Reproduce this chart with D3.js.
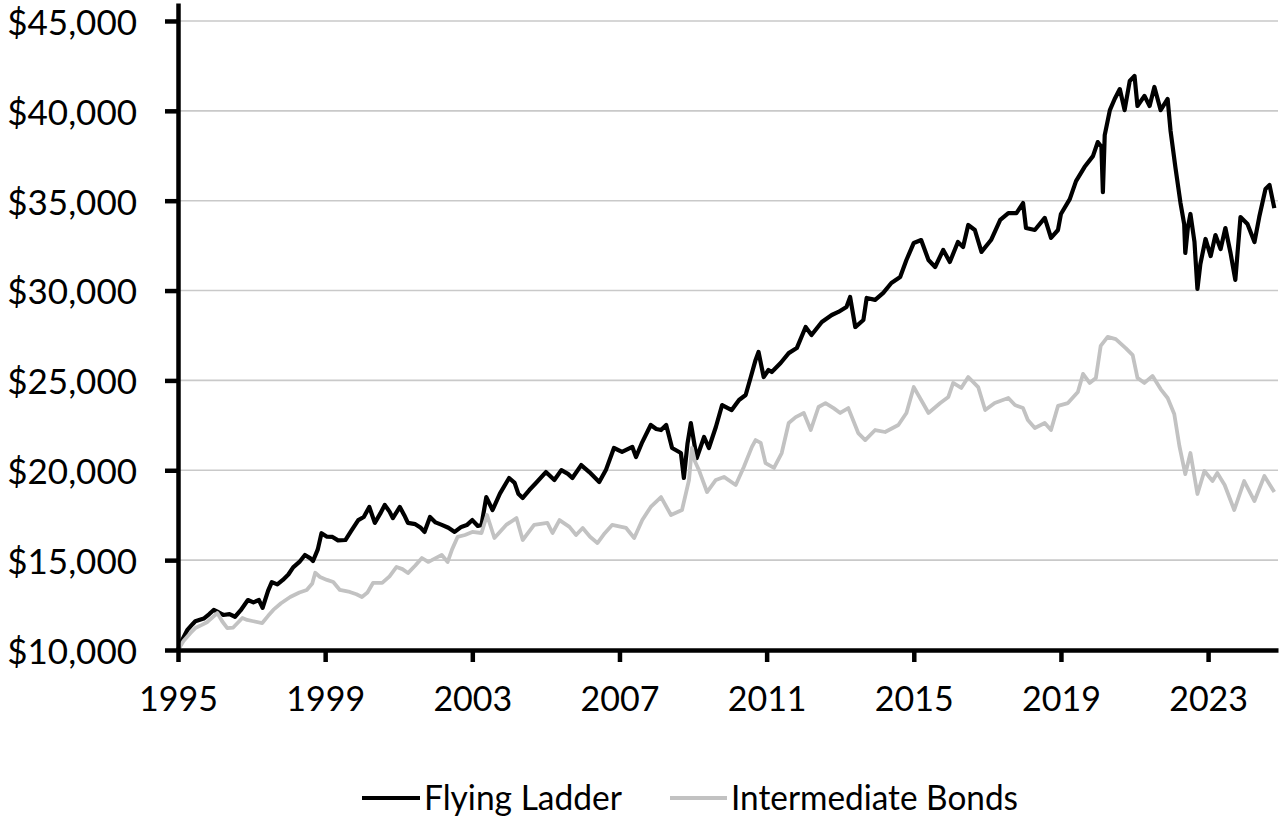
<!DOCTYPE html>
<html>
<head>
<meta charset="utf-8">
<script src="https://cdn.jsdelivr.net/npm/d3@7/dist/d3.min.js"></script>
<style>
  html, body { margin: 0; padding: 0; background: #fff; }
  svg { display: block; }
</style>
</head>
<body>
<svg id="chart" width="1284" height="827"></svg>
<script>
// ---- Data (decimal years, portfolio value in $) ----
const seriesNames = ["Flying Ladder", "Intermediate Bonds"];

const flyingYears = [
1995.00,1995.10,1995.25,1995.40,1995.47,1995.70,1995.85,1995.97,1996.10,1996.23,1996.40,1996.55,1996.70,1996.90,
1997.05,1997.20,1997.30,1997.45,1997.55,1997.70,1997.85,1998.00,1998.13,1998.30,1998.45,1998.60,1998.67,1998.80,
1998.90,1999.05,1999.20,1999.35,1999.55,1999.70,1999.90,2000.05,2000.20,2000.35,2000.50,2000.62,2000.75,2000.84,
2001.03,2001.15,2001.25,2001.45,2001.60,2001.70,2001.85,2002.00,2002.17,2002.35,2002.52,2002.70,2002.85,2003.00,
2003.15,2003.25,2003.38,2003.55,2003.75,2004.00,2004.15,2004.25,2004.37,2004.55,2004.73,2005.00,2005.23,2005.42,
2005.60,2005.72,2005.96,2006.18,2006.45,2006.63,2006.85,2007.07,2007.35,2007.45,2007.62,2007.85,2008.00,2008.13,
2008.27,2008.43,2008.67,2008.75,2008.85,2008.94,2009.10,2009.30,2009.43,2009.62,2009.79,2010.05,2010.25,2010.43,
2010.57,2010.70,2010.78,2010.92,2011.05,2011.14,2011.38,2011.60,2011.82,2012.06,2012.22,2012.50,2012.77,2012.95,
2013.17,2013.27,2013.41,2013.63,2013.72,2013.95,2014.17,2014.39,2014.63,2014.80,2015.00,2015.20,2015.40,2015.58,
2015.80,2015.98,2016.20,2016.34,2016.48,2016.66,2016.84,2017.10,2017.35,2017.57,2017.79,2017.97,2018.05,2018.29,
2018.56,2018.73,2018.92,2019.00,2019.24,2019.41,2019.64,2019.87,2020.00,2020.10,2020.14,2020.19,2020.33,2020.46,
2020.60,2020.73,2020.87,2021.00,2021.08,2021.27,2021.41,2021.54,2021.71,2021.90,2021.98,2022.11,2022.25,2022.35,
2022.38,2022.45,2022.52,2022.63,2022.71,2022.79,2022.93,2023.07,2023.20,2023.34,2023.47,2023.61,2023.74,2023.88,
2024.07,2024.26,2024.39,2024.56,2024.67,2024.80];

const flyingValues = [
10000,10500,11100,11450,11600,11750,12000,12230,12100,11950,12000,11850,12200,12780,
12650,12780,12350,13300,13780,13650,13900,14200,14600,14900,15290,15100,14950,15600,
16500,16300,16290,16100,16120,16600,17230,17400,17960,17070,17600,18070,17700,17340,
17960,17500,17070,17000,16800,16570,17400,17100,16960,16800,16570,16850,16950,17230,
16900,16960,18510,17790,18700,19570,19300,18700,18460,18900,19290,19900,19460,20010,
19800,19570,20290,19900,19350,20010,21240,21020,21300,20740,21570,22520,22300,22240,
22520,21240,20960,19570,21500,22630,20680,21850,21240,22410,23630,23350,23910,24190,
25190,26140,26580,25190,25580,25470,25970,26520,26800,27970,27530,28250,28640,28810,
29090,29640,27970,28360,29590,29480,29870,30420,30750,31700,32650,32810,31700,31310,
32260,31590,32700,32420,33650,33370,32150,32810,33930,34310,34310,34870,33480,33370,
34040,32930,33370,34260,35090,36090,36870,37480,38260,38000,35480,38650,40040,40660,
41210,40040,41660,41940,40270,40830,40270,41330,40040,40660,38880,36870,34870,33700,
32090,33500,34260,32700,30090,31480,32870,31920,33090,32310,33480,32090,30590,34090,
33700,32700,34090,35650,35870,34590];

const bondYears = [
1995.00,1995.15,1995.34,1995.47,1995.65,1995.80,1996.07,1996.20,1996.34,1996.50,1996.75,1996.88,1997.05,1997.29,
1997.45,1997.59,1997.80,1998.05,1998.30,1998.50,1998.65,1998.73,1998.86,1999.05,1999.22,1999.40,1999.67,1999.85,
2000.00,2000.15,2000.30,2000.55,2000.75,2000.94,2001.10,2001.25,2001.45,2001.63,2001.80,2001.90,2002.17,2002.33,
2002.45,2002.60,2002.80,2003.00,2003.25,2003.40,2003.60,2003.92,2004.20,2004.37,2004.68,2005.04,2005.18,2005.37,
2005.64,2005.82,2006.00,2006.20,2006.40,2006.60,2006.80,2007.18,2007.40,2007.62,2007.85,2008.13,2008.40,2008.70,
2008.89,2008.97,2009.05,2009.16,2009.38,2009.62,2009.84,2010.16,2010.38,2010.60,2010.70,2010.84,2010.97,2011.20,
2011.41,2011.60,2011.79,2012.01,2012.20,2012.41,2012.60,2012.82,2013.00,2013.22,2013.49,2013.68,2013.95,2014.22,
2014.58,2014.80,2015.00,2015.20,2015.40,2015.72,2015.94,2016.07,2016.29,2016.48,2016.75,2016.94,2017.20,2017.57,
2017.75,2017.97,2018.10,2018.29,2018.56,2018.73,2018.92,2019.19,2019.46,2019.60,2019.78,2019.95,2020.08,2020.27,
2020.49,2020.76,2020.95,2021.08,2021.27,2021.49,2021.71,2021.90,2022.08,2022.22,2022.38,2022.52,2022.71,2022.90,
2023.12,2023.25,2023.45,2023.71,2023.98,2024.26,2024.53,2024.80];

const bondValues = [
10000,10500,10950,11220,11400,11560,12060,11600,11220,11250,11780,11670,11600,11500,
11900,12230,12600,12950,13200,13340,13700,14300,14060,13900,13780,13340,13230,13100,
12950,13200,13730,13730,14100,14620,14500,14280,14700,15120,14900,15000,15290,14900,
15600,16290,16400,16570,16510,17510,16230,16960,17340,16120,16960,17070,16510,17230,
16850,16400,16790,16300,15950,16500,16960,16790,16230,17230,17960,18510,17510,17790,
19460,21240,20500,20010,18790,19460,19630,19180,20180,21300,21680,21520,20400,20130,
20960,22630,22960,23190,22240,23520,23740,23460,23190,23460,22070,21680,22240,22130,
22520,23190,24630,23910,23190,23740,24080,24860,24580,25190,24630,23350,23740,24020,
23630,23460,22800,22350,22630,22240,23580,23740,24360,25360,24860,25140,26920,27420,
27300,26800,26410,25140,24860,25250,24520,24020,23130,21350,19790,20960,18680,19960,
19400,19850,19180,17790,19400,18290,19680,18790];

const xTickValues = [1995, 1999, 2003, 2007, 2011, 2015, 2019, 2023];
const yTickValues = [10000, 15000, 20000, 25000, 30000, 35000, 40000, 45000];
const xDomain = [1995, 2024.9];
const yDomain = [10000, 46000];

// ---- Layout ----
const svg = d3.select("#chart");
const plotLeft = 178, plotRight = 1278, plotTop = 3, plotBottom = 650;
const FONT = "Lato, 'Open Sans', 'DejaVu Sans', sans-serif";

const x = d3.scaleLinear().domain(xDomain).range([plotLeft, plotRight]);
const y = d3.scaleLinear().domain(yDomain).range([plotBottom, plotTop]);

// gridlines
svg.append("g")
  .selectAll("line")
  .data(yTickValues.filter(v => v !== yDomain[0]))
  .join("line")
  .attr("x1", plotLeft).attr("x2", plotRight)
  .attr("y1", d => y(d)).attr("y2", d => y(d))
  .attr("stroke", "#c9c9c9")
  .attr("stroke-width", 1.6);

// series
const fly = flyingYears.map((t, i) => [t, flyingValues[i]]);
const bond = bondYears.map((t, i) => [t, bondValues[i]]);
const line = d3.line().x(d => x(d[0])).y(d => y(d[1]));

svg.append("path").datum(fly)
  .attr("d", line).attr("fill", "none")
  .attr("stroke", "#000").attr("stroke-width", 4.2)
  .attr("stroke-linejoin", "round");

svg.append("path").datum(bond)
  .attr("d", line).attr("fill", "none")
  .attr("stroke", "#c2c2c2").attr("stroke-width", 3.8)
  .attr("stroke-linejoin", "round");

// axes
const xAxis = d3.axisBottom(x)
  .tickValues(xTickValues)
  .tickFormat(d3.format("d"))
  .tickSize(12).tickSizeOuter(0).tickPadding(25);

const gx = svg.append("g").attr("transform", `translate(0,${plotBottom})`).call(xAxis);
gx.select(".domain").attr("stroke", "#000").attr("stroke-width", 4.5);
gx.selectAll(".tick line").attr("stroke", "#000").attr("stroke-width", 4.5);
gx.selectAll(".tick text")
  .attr("fill", "#000")
  .style("font-family", FONT).style("font-size", "34px");

const yAxis = d3.axisLeft(y)
  .tickValues(yTickValues)
  .tickFormat(d => "$" + d3.format(",")(d))
  .tickSize(13).tickSizeOuter(0).tickPadding(28);

const gy = svg.append("g").attr("transform", `translate(${plotLeft},0)`).call(yAxis);
gy.select(".domain").attr("stroke", "#000").attr("stroke-width", 4.5);
gy.selectAll(".tick line").attr("stroke", "#000").attr("stroke-width", 4.5);
gy.selectAll(".tick text")
  .attr("fill", "#000").attr("dy", "0.38em")
  .style("font-family", FONT).style("font-size", "35px");

// legend
const legend = [
  { name: seriesNames[0], color: "#000", width: 3.8, x1: 362, x2: 420, tx: 424, len: 198 },
  { name: seriesNames[1], color: "#c2c2c2", width: 3.8, x1: 670, x2: 727, tx: 731, len: 287 }
];
const lg = svg.append("g");
lg.selectAll("line").data(legend).join("line")
  .attr("x1", d => d.x1).attr("x2", d => d.x2)
  .attr("y1", 798).attr("y2", 798)
  .attr("stroke", d => d.color).attr("stroke-width", d => d.width);
lg.selectAll("text").data(legend).join("text")
  .attr("x", d => d.tx).attr("y", 810)
  .attr("textLength", d => d.len).attr("lengthAdjust", "spacingAndGlyphs")
  .style("font-family", FONT).style("font-size", "34px")
  .attr("fill", "#000")
  .text(d => d.name);
</script>
</body>
</html>
